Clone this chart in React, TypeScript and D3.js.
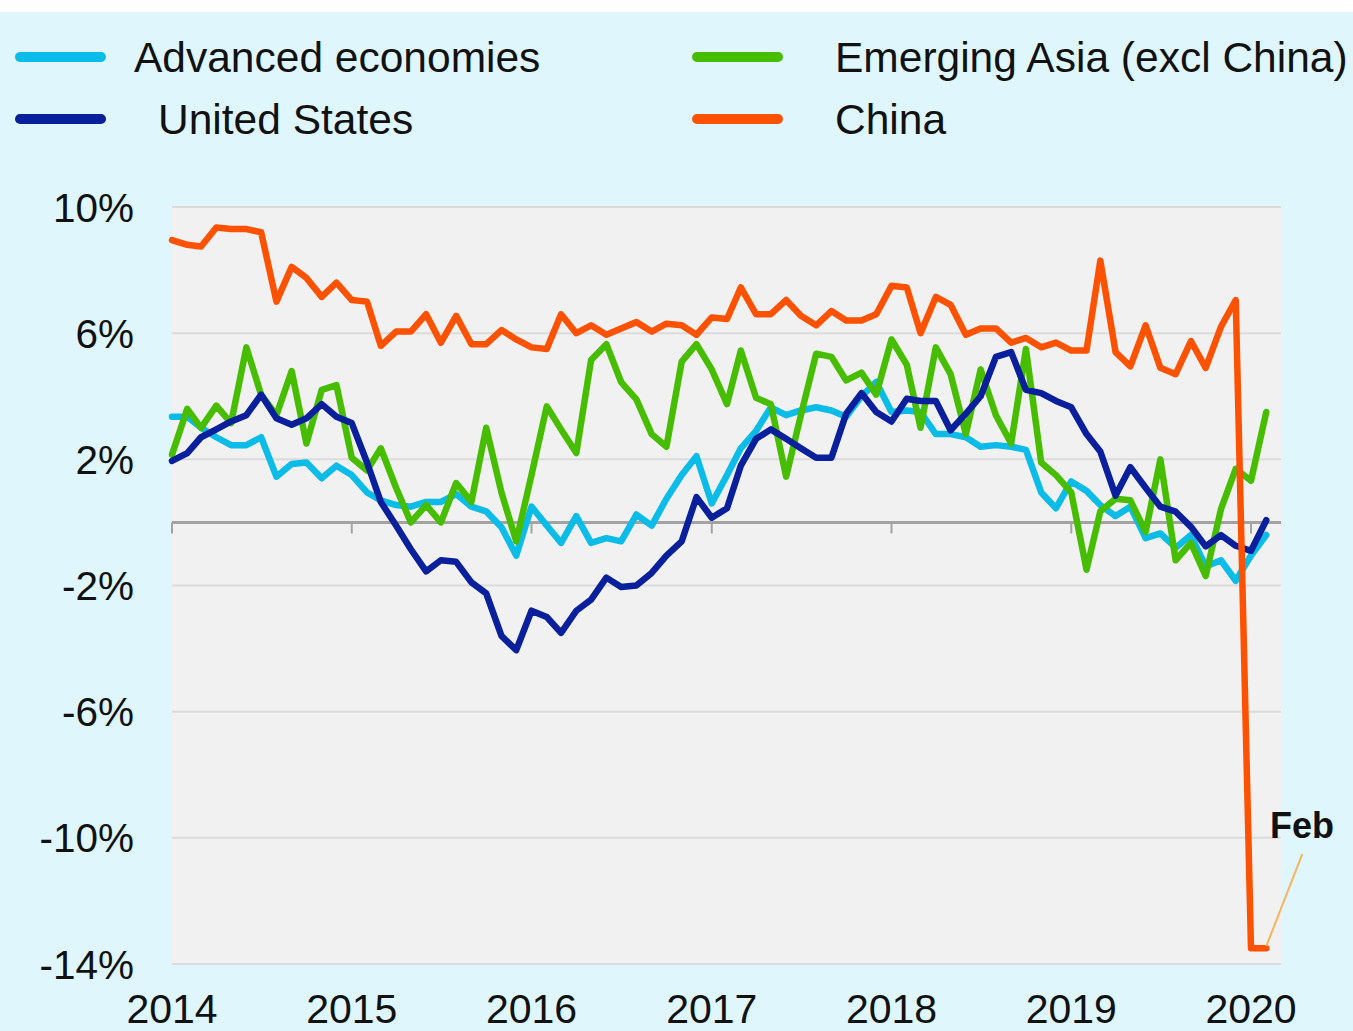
import React from "react";
import * as d3 from "d3";

// Monthly data, Jan 2014 – Feb 2020 (year-on-year % change)
const firstMonth = new Date(2014, 0, 1);
const lastMonth = new Date(2020, 1, 1);

const yearTicks = [2014, 2015, 2016, 2017, 2018, 2019, 2020];
const yTicks = [10, 6, 2, -2, -6, -10, -14];

const advanced = [
  3.35, 3.35, 3.0, 2.7, 2.45, 2.45, 2.7, 1.45, 1.85, 1.9, 1.4, 1.8,
  1.5, 0.95, 0.7, 0.55, 0.5, 0.65, 0.65, 0.9, 0.5, 0.35, -0.15, -1.05,
  0.5, -0.1, -0.65, 0.2, -0.65, -0.5, -0.6, 0.25, -0.1, 0.75, 1.5, 2.1,
  0.6, 1.5, 2.35, 2.9, 3.65, 3.4, 3.55, 3.65, 3.55, 3.35, 4.0, 4.45,
  3.5, 3.55, 3.5, 2.8, 2.8, 2.7, 2.4, 2.45, 2.4, 2.3, 0.95, 0.45,
  1.3, 1.0, 0.55, 0.2, 0.5, -0.5, -0.35, -0.8, -0.4, -1.4, -1.2, -1.85,
  -1.05, -0.4,
];

const emergingAsia = [
  2.15, 3.6, 3.0, 3.7, 3.15, 5.55, 4.05, 3.4, 4.8, 2.5, 4.2, 4.35,
  2.05, 1.65, 2.35, 1.1, 0.0, 0.55, 0.0, 1.25, 0.65, 3.0, 0.95, -0.6,
  1.5, 3.68, 2.95, 2.2, 5.15, 5.65, 4.45, 3.9, 2.8, 2.4, 5.1, 5.65,
  4.85, 3.75, 5.45, 3.95, 3.75, 1.45, 3.4, 5.35, 5.25, 4.5, 4.75, 4.05,
  5.8, 5.0, 3.0, 5.55, 4.7, 2.8, 4.85, 3.4, 2.5, 5.5, 1.9, 1.5,
  0.95, -1.5, 0.35, 0.75, 0.7, -0.3, 2.0, -1.2, -0.65, -1.7, 0.42, 1.7,
  1.32, 3.5,
];

const unitedStates = [
  1.95, 2.2, 2.7, 2.95, 3.2, 3.4, 4.05, 3.3, 3.1, 3.3, 3.75, 3.35,
  3.15, 1.9, 0.65, -0.1, -0.85, -1.55, -1.2, -1.25, -1.9, -2.25, -3.6, -4.05,
  -2.8, -3.0, -3.5, -2.8, -2.45, -1.75, -2.05, -2.0, -1.6, -1.05, -0.6, 0.8,
  0.15, 0.45, 1.8, 2.65, 2.95, 2.65, 2.35, 2.05, 2.05, 3.45, 4.1, 3.5,
  3.2, 3.92, 3.85, 3.85, 2.92, 3.45, 4.0, 5.25, 5.4, 4.2, 4.1, 3.85,
  3.65, 2.8, 2.25, 0.85, 1.75, 1.1, 0.5, 0.34, -0.14, -0.76, -0.4, -0.74,
  -0.9, 0.07,
];

const china = [
  8.95, 8.8, 8.75, 9.35, 9.3, 9.3, 9.2, 7.0, 8.1, 7.75, 7.15, 7.6,
  7.05, 7.0, 5.6, 6.05, 6.05, 6.6, 5.7, 6.55, 5.65, 5.65, 6.1, 5.8,
  5.55, 5.5, 6.6, 6.0, 6.25, 5.95, 6.15, 6.35, 6.05, 6.3, 6.25, 5.95,
  6.5, 6.45, 7.45, 6.6, 6.6, 7.05, 6.55, 6.25, 6.7, 6.4, 6.4, 6.6,
  7.5, 7.45, 6.0, 7.15, 6.9, 5.95, 6.15, 6.15, 5.7, 5.85, 5.55, 5.7,
  5.45, 5.45, 8.3, 5.4, 4.95, 6.25, 4.9, 4.7, 5.75, 4.9, 6.2, 7.05,
  -13.5, -13.5,
];

const seriesNames = ["Advanced economies", "United States", "Emerging Asia (excl China)", "China"];
const seriesColors = ["#0CBCE8", "#0A1F9C", "#47BD00", "#FF5200"];

const W = 1353;
const H = 1031;
const FONT = "'Liberation Sans', Arial, Helvetica, sans-serif";

export default function App() {
  const months = d3.timeMonth.range(firstMonth, d3.timeMonth.offset(lastMonth, 1));
  const x = d3
    .scaleTime()
    .domain([new Date(2014, 0, 1), new Date(2020, 0, 1)])
    .range([172, 1251]);
  const y = d3.scaleLinear().domain([-14, 10]).range([964, 207]);

  const line = d3
    .line<number>()
    .x((_, i) => x(months[i]))
    .y((d) => y(d));

  const plotLeft = 172;
  const plotRight = 1281;

  // draw order: advanced, emerging, US, China on top
  const drawSeries = [
    { data: advanced, color: seriesColors[0] },
    { data: emergingAsia, color: seriesColors[2] },
    { data: unitedStates, color: seriesColors[1] },
    { data: china, color: seriesColors[3] },
  ];

  const legend = [
    { name: seriesNames[0], color: seriesColors[0], sx: 15, tx: 134, cy: 57 },
    { name: seriesNames[1], color: seriesColors[1], sx: 15, tx: 158, cy: 119 },
    { name: seriesNames[2], color: seriesColors[2], sx: 692, tx: 835, cy: 57 },
    { name: seriesNames[3], color: seriesColors[3], sx: 692, tx: 835, cy: 119 },
  ];

  const febIdx = china.length - 1;
  const febX = x(months[febIdx]);
  const febY = y(china[febIdx]);

  return (
    <svg
      width={W}
      height={H}
      style={{ position: "absolute", left: 0, top: 0, display: "block" }}
      fontFamily={FONT}
    >
      <rect x={0} y={0} width={W} height={H} fill="#DEF6FC" />
      <rect x={0} y={0} width={W} height={12} fill="#FFFFFF" />

      {/* legend */}
      {legend.map((l) => (
        <g key={l.name}>
          <line
            x1={l.sx + 5}
            x2={l.sx + 86}
            y1={l.cy}
            y2={l.cy}
            stroke={l.color}
            strokeWidth={10}
            strokeLinecap="round"
          />
          <text x={l.tx} y={l.cy} dy="0.36em" fontSize={42.5} fill="#111">
            {l.name}
          </text>
        </g>
      ))}

      {/* plot area */}
      <rect x={plotLeft} y={y(10)} width={plotRight - plotLeft} height={y(-14) - y(10)} fill="#F1F1F1" />
      {yTicks.map((t) => (
        <line key={t} x1={plotLeft} x2={plotRight} y1={y(t)} y2={y(t)} stroke="#DBDBDB" strokeWidth={2} />
      ))}
      {/* zero axis */}
      <line x1={plotLeft} x2={plotRight} y1={y(0)} y2={y(0)} stroke="#A3A3A3" strokeWidth={3} />
      {yearTicks.map((yr) => (
        <line
          key={yr}
          x1={x(new Date(yr, 0, 1))}
          x2={x(new Date(yr, 0, 1))}
          y1={y(0)}
          y2={y(0) + 11}
          stroke="#A3A3A3"
          strokeWidth={2}
        />
      ))}

      {/* y labels */}
      {yTicks.map((t) => (
        <text key={t} x={134} y={y(t)} dy="0.36em" textAnchor="end" fontSize={40.5} fill="#111">
          {`${t}%`}
        </text>
      ))}
      {/* x labels */}
      {yearTicks.map((yr) => (
        <text key={yr} x={x(new Date(yr, 0, 1))} y={1023} textAnchor="middle" fontSize={41} fill="#111">
          {yr}
        </text>
      ))}

      {/* series */}
      {drawSeries.map((s, k) => (
        <path
          key={k}
          d={line(s.data) || ""}
          fill="none"
          stroke={s.color}
          strokeWidth={6.5}
          strokeLinejoin="round"
          strokeLinecap="round"
        />
      ))}

      {/* Feb annotation */}
      <line x1={febX} y1={febY - 2} x2={febX + 36} y2={febY - 94} stroke="#F9B35C" strokeWidth={2} />
      <text x={1270} y={838} fontSize={36} fontWeight="bold" fill="#111">
        Feb
      </text>
    </svg>
  );
}
